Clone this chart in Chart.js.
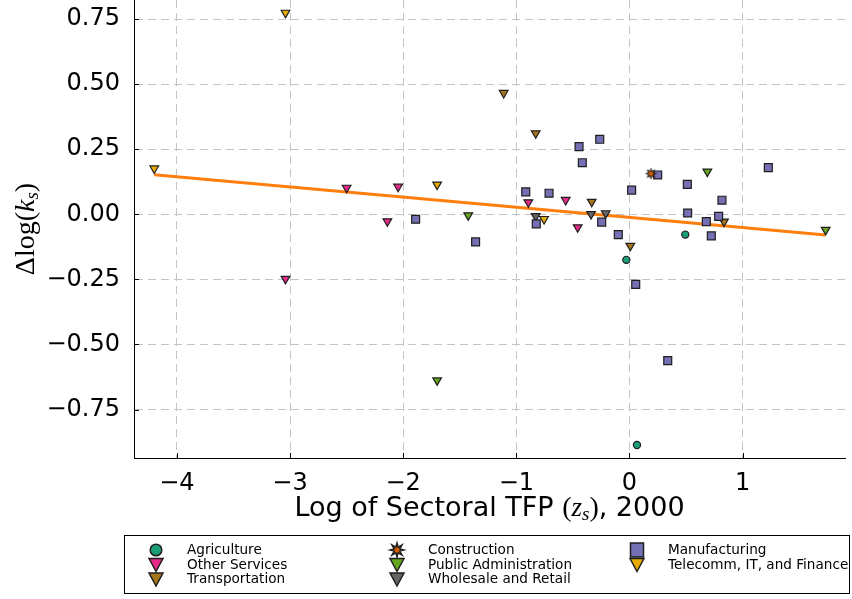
<!DOCTYPE html>
<html>
<head>
<meta charset="utf-8">
<script src="https://cdn.jsdelivr.net/npm/chart.js@4.4.1/dist/chart.umd.min.js"></script>
<style>
  html, body { margin: 0; padding: 0; background: #ffffff; }
  #wrap { width: 852px; height: 599px; }
</style>
</head>
<body>
<div id="wrap"><canvas id="c" width="852" height="599"></canvas></div>
<script>
// Sector-level log TFP in 2000 (x) against change in log capital (y)
const sectors = [
  'Agriculture', 'Construction', 'Manufacturing', 'Other Services',
  'Public Administration', 'Telecomm, IT, and Finance', 'Transportation', 'Wholesale and Retail'
];

const agricultureX = [-0.028, 0.493, 0.066];
const agricultureY = [-0.175, -0.078, -0.886];

const constructionX = [0.19];
const constructionY = [0.156];

const manufacturingX = [-0.446, -0.263, -0.417, -0.917, -0.711, -0.824, -0.246, -0.099, 0.019, 0.249,
                        0.511, 0.817, 0.514, 0.788, 0.679, 0.723, 1.227, -1.89, -1.36, 0.055, 0.338];
const manufacturingY = [0.260, 0.288, 0.198, 0.086, 0.081, -0.037, -0.030, -0.078, 0.093, 0.151,
                        0.115, 0.054, 0.005, -0.008, -0.028, -0.083, 0.179, -0.019, -0.106, -0.269, -0.562];

const otherServicesX = [-3.04, -2.50, -2.045, -2.14, -0.894, -0.564, -0.458];
const otherServicesY = [-0.248, 0.102, 0.106, -0.027, 0.046, 0.055, -0.050];

const publicAdminX = [-1.425, -1.70, 0.688, 1.734];
const publicAdminY = [-0.004, -0.638, 0.164, -0.060];

const telecomX = [-4.20, -3.04, -1.70, -0.755];
const telecomY = [0.176, 0.774, 0.114, -0.018];

const transportX = [-1.112, -0.829, -0.334, 0.835, 0.007];
const transportY = [0.466, 0.311, 0.048, -0.028, -0.121];

const wholesaleX = [-0.829, -0.34, -0.21];
const wholesaleY = [-0.007, 0.001, 0.004];

// Fitted line, end points
const fitX = [-4.20, 1.734];
const fitY = [0.152, -0.080];

const xTicks = [-4, -3, -2, -1, 0, 1];
const yTicks = [-0.75, -0.5, -0.25, 0, 0.25, 0.5, 0.75];

const X_MIN = -4.379, X_MAX = 1.9045;
const Y_MIN = -0.936, Y_MAX = 0.823;

// ---------------------------------------------------------------
const pts = (xs, ys) => xs.map((x, i) => ({ x: x, y: ys[i] }));

// small orange star marker with dark outline
function starImage(outer, inner, pad) {
  const size = Math.ceil(outer * 2 + pad * 2);
  const cv = document.createElement('canvas');
  cv.width = size; cv.height = size;
  const g = cv.getContext('2d');
  const c = size / 2;
  g.beginPath();
  for (let k = 0; k < 16; k++) {
    const r = k % 2 === 0 ? outer : inner;
    const a = -Math.PI / 2 + k * Math.PI / 8;
    const px = c + r * Math.cos(a), py = c + r * Math.sin(a);
    if (k === 0) g.moveTo(px, py); else g.lineTo(px, py);
  }
  g.closePath();
  g.fillStyle = '#d95f02';
  g.fill();
  g.lineWidth = 1;
  g.strokeStyle = '#111111';
  g.stroke();
  return cv;
}
const starSmall = starImage(5.2, 2.2, 1);

const styles = {
  'Agriculture':               { color: '#1b9e77', shape: 'circle',   radius: 3.6 },
  'Construction':              { color: '#d95f02', shape: 'star',     radius: 5 },
  'Manufacturing':             { color: '#7570b3', shape: 'rect',     radius: 5.6 },
  'Other Services':            { color: '#e7298a', shape: 'triangle', radius: 5 },
  'Public Administration':     { color: '#66a61e', shape: 'triangle', radius: 5 },
  'Telecomm, IT, and Finance': { color: '#e6ab02', shape: 'triangle', radius: 5 },
  'Transportation':            { color: '#a6761d', shape: 'triangle', radius: 5 },
  'Wholesale and Retail':      { color: '#666666', shape: 'triangle', radius: 5 }
};

const seriesData = {
  'Agriculture': pts(agricultureX, agricultureY),
  'Construction': pts(constructionX, constructionY),
  'Manufacturing': pts(manufacturingX, manufacturingY),
  'Other Services': pts(otherServicesX, otherServicesY),
  'Public Administration': pts(publicAdminX, publicAdminY),
  'Telecomm, IT, and Finance': pts(telecomX, telecomY),
  'Transportation': pts(transportX, transportY),
  'Wholesale and Retail': pts(wholesaleX, wholesaleY)
};

const datasets = sectors.map(name => {
  const st = styles[name];
  return {
    label: name,
    type: 'scatter',
    data: seriesData[name],
    order: 0,
    backgroundColor: st.color,
    borderColor: '#1e1e1e',
    borderWidth: 1.2,
    pointStyle: st.shape === 'star' ? starSmall : st.shape,
    rotation: st.shape === 'triangle' ? 180 : 0,
    pointRadius: st.radius,
    pointHoverRadius: st.radius
  };
});

datasets.push({
  label: 'fit',
  type: 'line',
  data: pts(fitX, fitY),
  order: 5,
  borderColor: '#ff7f0e',
  borderWidth: 3,
  pointRadius: 0,
  fill: false,
  tension: 0
});

// ---------------------------------------------------------------
const FONT = "'DejaVu Sans'";
const SERIF = "'Liberation Serif'";

function drawRich(ctx, parts, cx, baseY) {
  let w = 0;
  parts.forEach(p => { ctx.font = p.font; p.w = ctx.measureText(p.t).width; w += p.w + (p.gap || 0); });
  let x = cx - w / 2;
  ctx.textBaseline = 'alphabetic';
  ctx.textAlign = 'left';
  parts.forEach(p => {
    ctx.font = p.font;
    ctx.fillText(p.t, x, baseY + (p.dy || 0));
    x += p.w + (p.gap || 0);
  });
}

function legendMarker(ctx, shape, color, x, y) {
  ctx.save();
  ctx.fillStyle = color;
  ctx.strokeStyle = '#1e1e1e';
  ctx.lineWidth = 1.5;
  ctx.beginPath();
  if (shape === 'circle') {
    ctx.arc(x, y, 5.8, 0, Math.PI * 2);
  } else if (shape === 'rect') {
    ctx.rect(x - 6.5, y - 7, 13, 14);
  } else if (shape === 'triangle') {
    ctx.moveTo(x - 7, y - 6);
    ctx.lineTo(x + 7, y - 6);
    ctx.lineTo(x, y + 7);
    ctx.closePath();
  } else if (shape === 'star') {
    for (let k = 0; k < 16; k++) {
      const r = k % 2 === 0 ? 7 : 3;
      const a = -Math.PI / 2 + k * Math.PI / 8;
      const px = x + r * Math.cos(a), py = y + r * Math.sin(a);
      if (k === 0) ctx.moveTo(px, py); else ctx.lineTo(px, py);
    }
    ctx.closePath();
  }
  ctx.fill();
  ctx.stroke();
  ctx.restore();
}

const decor = {
  id: 'decor',
  afterDraw(chart) {
    const ctx = chart.ctx;
    const xs = chart.scales.x, ys = chart.scales.y;
    const area = chart.chartArea;
    ctx.save();

    // inward tick marks
    ctx.strokeStyle = '#000';
    ctx.lineWidth = 1;
    ctx.beginPath();
    xTicks.forEach(v => {
      const px = Math.round(xs.getPixelForValue(v)) + 0.5;
      ctx.moveTo(px, area.bottom); ctx.lineTo(px, area.bottom - 5);
    });
    yTicks.forEach(v => {
      const py = Math.round(ys.getPixelForValue(v)) + 0.5;
      ctx.moveTo(area.left, py); ctx.lineTo(area.left + 5, py);
    });
    ctx.stroke();

    // axis titles
    ctx.fillStyle = '#000';
    const cx = (area.left + area.right) / 2;
    drawRich(ctx, [
      { t: 'Log of Sectoral TFP ', font: '27px ' + FONT },
      { t: '(', font: '28px ' + SERIF },
      { t: 'z', font: 'italic 27px ' + SERIF },
      { t: 's', font: 'italic 19px ' + SERIF, dy: 4 },
      { t: ')', font: '28px ' + SERIF },
      { t: ', 2000', font: '27px ' + FONT }
    ], cx, 516);

    ctx.save();
    ctx.translate(34, (area.top + area.bottom) / 2);
    ctx.rotate(-Math.PI / 2);
    drawRich(ctx, [
      { t: 'Δlog(', font: '28px ' + SERIF },
      { t: 'k', font: 'italic 28px ' + SERIF },
      { t: 's', font: 'italic 19px ' + SERIF, dy: 4 },
      { t: ')', font: '28px ' + SERIF }
    ], 0, 0);
    ctx.restore();

    // legend box
    const bx = 124.5, by = 535.5, bw = 725, bh = 58;
    ctx.fillStyle = '#ffffff';
    ctx.fillRect(bx, by, bw, bh);
    ctx.strokeStyle = '#000';
    ctx.lineWidth = 1;
    ctx.strokeRect(bx, by, bw, bh);

    const colX = [156, 397, 637];
    const rowY = [550, 564.5, 579];
    ctx.textBaseline = 'middle';
    ctx.textAlign = 'left';
    chart.data.datasets.forEach((ds, i) => {
      if (ds.type !== 'scatter') return;
      const st = styles[ds.label];
      const c = i % 3, r = Math.floor(i / 3);
      legendMarker(ctx, st.shape, st.color, colX[c], rowY[r]);
    });
    chart.data.datasets.forEach((ds, i) => {
      if (ds.type !== 'scatter') return;
      const c = i % 3, r = Math.floor(i / 3);
      ctx.fillStyle = '#000';
      ctx.font = '13.6px ' + FONT;
      ctx.fillText(ds.label, colX[c] + 31, rowY[r] + 0.5);
    });
    ctx.restore();
  }
};

const gridOpts = { color: '#c4c4c4', lineWidth: 1, drawTicks: false };
const borderOpts = { display: true, color: '#000000', width: 1, dash: [8, 5] };

new Chart(document.getElementById('c'), {
  type: 'scatter',
  data: { datasets: datasets },
  options: {
    responsive: false,
    animation: false,
    devicePixelRatio: 1,
    events: [],
    layout: { autoPadding: false, padding: { left: 0, right: 7, top: 0, bottom: 0 } },
    plugins: { legend: { display: false }, tooltip: { enabled: false } },
    scales: {
      x: {
        type: 'linear',
        position: 'bottom',
        min: X_MIN, max: X_MAX,
        afterBuildTicks: s => { s.ticks = xTicks.map(v => ({ value: v })); },
        afterFit: s => { s.height = 141; s.paddingLeft = 0; s.paddingRight = 0; },
        grid: gridOpts,
        border: borderOpts,
        ticks: {
          autoSkip: false, maxRotation: 0, padding: 11, color: '#000',
          font: { family: 'DejaVu Sans', size: 24 },
          callback: v => String(v).replace('-', '\u2212')
        }
      },
      y: {
        type: 'linear',
        position: 'left',
        min: Y_MIN, max: Y_MAX,
        afterBuildTicks: s => { s.ticks = yTicks.map(v => ({ value: v })); },
        afterFit: s => { s.width = 134; s.paddingTop = 0; s.paddingBottom = 0; },
        grid: gridOpts,
        border: borderOpts,
        ticks: {
          autoSkip: false, padding: 14, color: '#000',
          font: { family: 'DejaVu Sans', size: 24 },
          callback: v => Number(v).toFixed(2).replace('-', '\u2212')
        }
      }
    }
  },
  plugins: [decor]
});
</script>
</body>
</html>
